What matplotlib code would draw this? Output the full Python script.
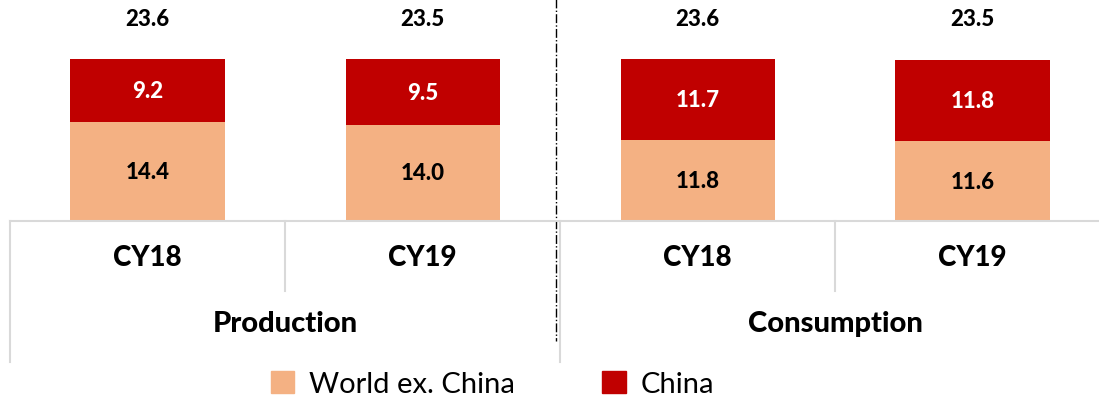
import matplotlib.pyplot as plt
from matplotlib.patches import Patch
from matplotlib.transforms import blended_transform_factory

plt.rcParams['font.family'] = ['Lato', 'DejaVu Sans']

years = ['CY18', 'CY19', 'CY18', 'CY19']
groups = ['Production', 'Consumption']
world_ex_china = [14.4, 14.0, 11.8, 11.6]
china = [9.2, 9.5, 11.7, 11.8]
totals = [23.6, 23.5, 23.6, 23.5]

c_world = '#F4B183'
c_china = '#C00000'
grid_c = '#d9d9d9'

fig = plt.figure(figsize=(10.99, 4.06), dpi=100)
W, H = 1099, 406
ax = fig.add_axes([10 / W, 184 / H, 1089 / W, 222 / H])

x = list(range(len(years)))
ax.bar(x, world_ex_china, width=0.56, color=c_world)
ax.bar(x, china, width=0.56, bottom=world_ex_china, color=c_china)

for i in x:
    ax.text(i, world_ex_china[i] / 2, f'{world_ex_china[i]:.1f}', ha='center', va='center',
            fontsize=16, fontweight='black', color='black')
    ax.text(i, world_ex_china[i] + china[i] / 2, f'{china[i]:.1f}', ha='center', va='center',
            fontsize=16, fontweight='black', color='white')
    ax.text(i, 29.4, f'{totals[i]:.1f}', ha='center', va='center',
            fontsize=16, fontweight='black', color='black')

ax.set_xlim(-0.5, -0.5 + 1089 / 275)
ax.set_ylim(0, 32.3)
ax.set_xticks([])
ax.set_yticks([])
for s in ['top', 'right', 'left']:
    ax.spines[s].set_visible(False)
ax.spines['bottom'].set_color(grid_c)
ax.spines['bottom'].set_linewidth(1.5)

trans = blended_transform_factory(ax.transData, ax.transAxes)
for i, lab in enumerate(years):
    ax.text(i, -0.16, lab, transform=trans, ha='center', va='center',
            fontsize=20, fontweight='black')
for g, lab in enumerate(groups):
    ax.text(2 * g + 0.5, -0.46, lab, transform=trans, ha='center', va='center',
            fontsize=21, fontweight='black')

# separators below the axis
for xs in [0.5, 2.5]:
    ax.plot([xs, xs], [0, -0.315], transform=trans, color=grid_c, lw=1.5, clip_on=False)
for xs in [-0.5, 1.5]:
    ax.plot([xs, xs], [0, -0.635], transform=trans, color=grid_c, lw=1.5, clip_on=False)

# dashed divider between groups
ax.plot([1.485, 1.485], [1.0, -0.54], transform=trans, color='black', lw=1,
        linestyle='-.', clip_on=False)

handles = [Patch(color=c_world, label='World ex. China'), Patch(color=c_china, label='China')]
fig.legend(handles=handles, loc='center', bbox_to_anchor=(0.448, 1 - 385 / H), ncol=2,
           frameon=False, fontsize=21, handlelength=0.8, handleheight=0.8,
           columnspacing=3.0, handletextpad=0.5)

plt.savefig('out.png', dpi=100)
